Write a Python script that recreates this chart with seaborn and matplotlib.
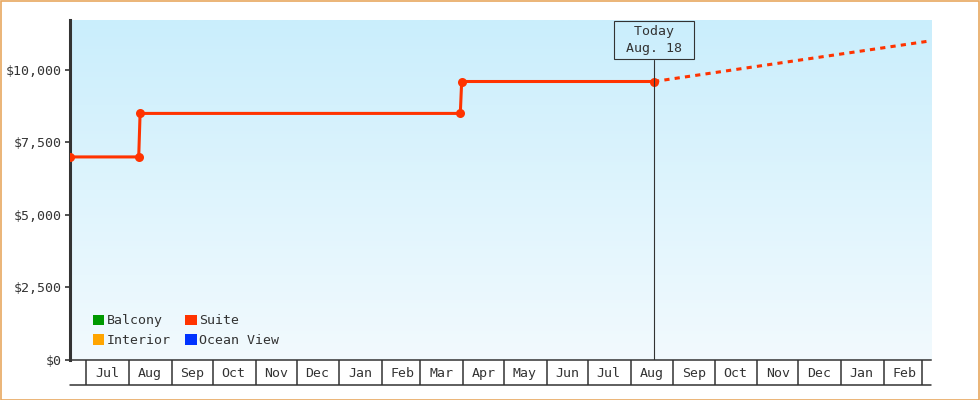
import numpy as np
import pandas as pd
import matplotlib
matplotlib.use("Agg")
import matplotlib.pyplot as plt
import matplotlib.dates as mdates
from matplotlib.colors import LinearSegmentedColormap
from matplotlib.patches import Patch, Rectangle
from matplotlib.ticker import FuncFormatter
import seaborn as sns

# ---- data ----
suite_dates = ["2017-06-19", "2017-08-08", "2017-08-09", "2018-03-30", "2018-03-31", "2018-08-18"]
suite_prices = [7000, 7000, 8500, 8500, 9600, 9600]
proj_dates = ["2018-08-18", "2019-03-07"]
proj_prices = [9600, 11000]
legend_labels = ["Balcony", "Interior", "Suite", "Ocean View"]
legend_colors = ["#009900", "#ffa500", "#ff3300", "#0033ff"]
today_date = "2018-08-18"
today_label = "Today\nAug. 18"
y_ticks = [0, 2500, 5000, 7500, 10000]
x_start = "2017-06-19"
x_end = "2019-03-07 12:00"
y_max = 11720

sns.set_theme(style="white")
plt.rcParams["font.family"] = ["DejaVu Sans Mono", "DejaVu Sans"]
TXT = "#333333"
RED = "#ff3300"

fig = plt.figure(figsize=(9.8, 4.0), dpi=100)
ax = fig.add_axes([70 / 980, 40 / 400, 861 / 980, 340 / 400])

# gradient background
cmap = LinearSegmentedColormap.from_list("bg", ["#f2fafe", "#caeefc"])
grad = np.linspace(0, 1, 256).reshape(-1, 1)
ax.imshow(grad, extent=[0, 1, 0, 1], transform=ax.transAxes, aspect="auto",
          cmap=cmap, origin="lower", zorder=0)

df = pd.DataFrame({"date": pd.to_datetime(suite_dates), "price": suite_prices})
dfp = pd.DataFrame({"date": pd.to_datetime(proj_dates), "price": proj_prices})

sns.lineplot(data=dfp, x="date", y="price", ax=ax, color=RED, linewidth=2.2,
             linestyle=(0, (1.7, 1.7)), zorder=3)
sns.lineplot(data=df, x="date", y="price", ax=ax, color=RED, linewidth=2.2,
             marker="o", markersize=6.5, markeredgewidth=0, zorder=4)

xmin = pd.Timestamp(x_start)
xmax = pd.Timestamp(x_end)
ax.set_xlim(xmin, xmax)
ax.set_ylim(0, y_max)

# today marker
td = pd.Timestamp(today_date)
ax.plot([td, td], [0, 1 - 40 / 340], transform=ax.get_xaxis_transform(),
        color=TXT, linewidth=0.8, zorder=5)
box_lines = today_label.split("\n")
ax.text(td, 1 - 20 / 340, "\n".join(f" {s} " for s in box_lines),
        transform=ax.get_xaxis_transform(),
        ha="center", va="center", multialignment="center", fontsize=9.5, color=TXT,
        linespacing=1.45,
        bbox=dict(boxstyle="square,pad=0.32", facecolor="none", edgecolor=TXT, linewidth=0.8),
        zorder=6)

# y axis
ax.set_yticks(y_ticks)
ax.yaxis.set_major_formatter(FuncFormatter(lambda v, p: f"${v:,.0f}"))
ax.tick_params(axis="y", which="major", direction="out", length=3.6, width=1.2,
               color=TXT, labelcolor=TXT, labelsize=9.5, pad=2, left=True)

# x axis: month dividers + centered labels
ax.xaxis.set_major_locator(mdates.MonthLocator(bymonthday=1))
ax.xaxis.set_major_formatter(plt.NullFormatter())
ax.xaxis.set_minor_locator(mdates.MonthLocator(bymonthday=16))
ax.xaxis.set_minor_formatter(mdates.DateFormatter("%b"))
ax.tick_params(axis="x", which="major", direction="out", length=18, width=1.1,
               color=TXT, bottom=True)
ax.tick_params(axis="x", which="minor", length=0, labelsize=9.5, labelcolor=TXT, pad=5)
ax.plot([0, 1], [-25 / 340, -25 / 340], transform=ax.transAxes, color=TXT,
        linewidth=1.1, clip_on=False, zorder=5)

ax.set_xlabel("")
ax.set_ylabel("")
for s in ["top", "right"]:
    ax.spines[s].set_visible(False)
ax.spines["left"].set_linewidth(2.2)
ax.spines["left"].set_color(TXT)
ax.spines["bottom"].set_linewidth(1.1)
ax.spines["bottom"].set_color(TXT)
ax.grid(False)

# legend
handles = [Patch(facecolor=c, edgecolor="none", label=l) for l, c in zip(legend_labels, legend_colors)]
ax.legend(handles=handles, loc="lower left", bbox_to_anchor=(23 / 861, 13 / 340),
          ncol=2, frameon=False, fontsize=9.5, handlelength=0.85, handleheight=0.85,
          handletextpad=0.2, columnspacing=1.1, labelspacing=0.5, borderpad=0,
          borderaxespad=0, labelcolor=TXT)

# figure border
fig.patches.append(Rectangle((0.5 / 980, 0.5 / 400), 1 - 1.5 / 980, 1 - 1.5 / 400,
                             transform=fig.transFigure, fill=False,
                             edgecolor="#e8a860", linewidth=1.2))

fig.savefig("out.png", dpi=100)
